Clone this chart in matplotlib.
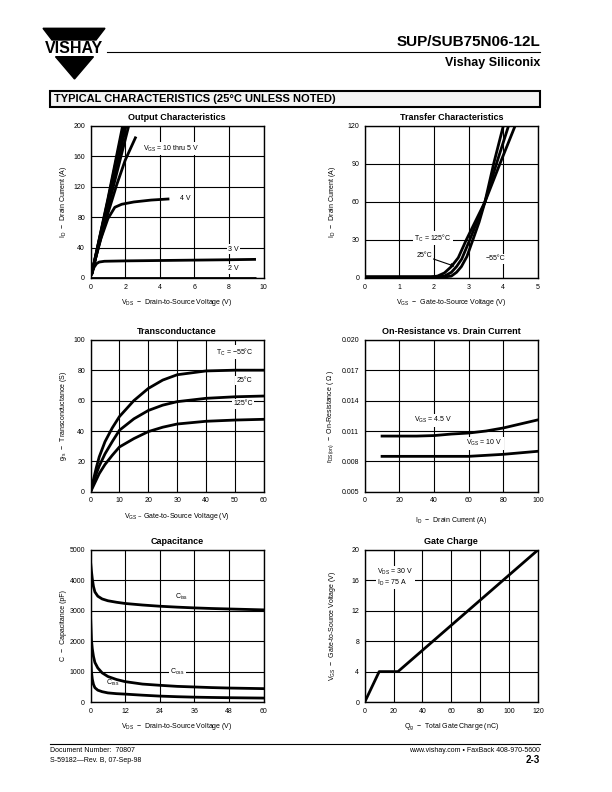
import matplotlib
matplotlib.use('Agg')
import matplotlib.pyplot as plt
from matplotlib.patches import Polygon, Rectangle

plt.rcParams['font.family'] = ['Liberation Sans', 'DejaVu Sans']
plt.rcParams['axes.unicode_minus'] = True
NARROW = ['Liberation Sans Narrow', 'Liberation Sans', 'DejaVu Sans']

# --- Output characteristics
vds_10 = [0.05, 1.0, 1.85]
id_10 = [4, 104, 200]
vds_9 = [0.05, 1.0, 1.9]
id_9 = [4, 102, 200]
vds_8 = [0.05, 1.0, 1.97]
id_8 = [4, 100, 200]
vds_7 = [0.05, 1.0, 2.05]
id_7 = [4, 97, 200]
vds_6 = [0.05, 1.0, 2.2]
id_6 = [4, 92, 200]
vds_5 = [0.05, 0.5, 1.0, 1.5, 2.0, 2.62]
id_5 = [4, 45, 85, 122, 155, 186]
vds_4 = [0.05, 0.3, 0.6, 1.0, 1.4, 1.8, 2.5, 3.5, 4.55]
id_4 = [4, 27, 52, 78, 93, 97, 100, 102.5, 104]
vds_3 = [0.05, 0.2, 0.35, 0.5, 0.8, 2, 4, 6, 8, 9.55]
id_3 = [4, 14, 19, 21, 22, 22.5, 23, 23.5, 24, 24.5]
vds_2 = [0.05, 9.55]
id_2 = [0.3, 0.3]

# --- Transfer characteristics
vgs_m55 = [0, 2.3, 2.5, 2.65, 2.79, 2.95, 3.12, 3.3, 3.47, 3.72, 4.0]
id_m55 = [0.8, 0.8, 1.5, 4.5, 9, 17, 30, 44, 60, 90, 120]
vgs_25 = [0, 2.1, 2.3, 2.5, 2.65, 2.8, 3.03, 3.25, 3.47, 3.8, 4.15]
id_25 = [0.8, 0.8, 1.5, 4.5, 9, 15, 30, 45, 60, 90, 120]
vgs_125 = [0, 1.9, 2.1, 2.3, 2.5, 2.7, 2.93, 3.2, 3.47, 3.9, 4.34]
id_125 = [0.8, 0.8, 1.5, 4, 9, 16, 30, 45, 60, 90, 120]

# --- Transconductance
vgs_gfs = [0, 1, 2, 3, 5, 7.5, 10, 15, 20, 25, 30, 40, 50, 60]
gfs_m55 = [0, 8, 16, 23, 33, 42, 49.5, 60, 68, 73.5, 77, 79.5, 80, 80]
gfs_25 = [0, 6, 12, 17, 25, 33, 40.5, 48, 53.5, 57, 59.3, 61.5, 62.5, 63]
gfs_125 = [0, 4, 8, 12, 18, 24, 29.5, 35, 39.6, 42.5, 44.6, 46.4, 47.2, 47.7]

# --- On-resistance vs drain current
id_r = [10, 20, 30, 40, 50, 60, 70, 80, 90, 100]
r_45 = [0.0105, 0.0105, 0.0105, 0.01055, 0.0107, 0.0108, 0.0110, 0.0113, 0.0117, 0.0121]
r_10 = [0.0085, 0.0085, 0.0085, 0.0085, 0.0085, 0.0085, 0.0086, 0.0087, 0.00885, 0.0090]

# --- Capacitance
vds_c = [0, 0.3, 0.6, 1, 1.5, 2.5, 4, 6, 9, 12, 18, 24, 30, 36, 42, 48, 54, 60]
ciss = [4600, 4300, 4050, 3800, 3620, 3480, 3390, 3330, 3280, 3240, 3190, 3150, 3120, 3095, 3075, 3060, 3045, 3030]
coss = [2800, 2050, 1750, 1500, 1300, 1120, 960, 840, 740, 670, 590, 550, 515, 495, 475, 460, 450, 440]
crss = [1600, 1000, 750, 580, 470, 390, 340, 300, 275, 260, 225, 195, 175, 160, 150, 142, 136, 130]

# --- Gate charge
qg = [0, 10, 23, 120]
vgs_q = [0, 4, 4, 20]

fig = plt.figure(figsize=(6.12, 7.92), dpi=100)

# page decorations in pixel coordinates
page = fig.add_axes([0, 0, 1, 1])
page.set_xlim(0, 612)
page.set_ylim(792, 0)
page.axis('off')
page.add_patch(Polygon([(43, 28.3), (105, 28.3), (96, 40), (52, 40)], color='black'))
page.add_patch(Polygon([(55.5, 56.7), (93.5, 56.7), (74.5, 79)], color='black'))
page.text(74, 48.5, 'VISHAY', fontsize=11.5, fontweight='bold', ha='center', va='center')
page.plot([107, 540], [52, 52], color='black', lw=0.8)
page.text(540, 46, 'SUP/SUB75N06-12L', fontsize=11, fontweight='bold', ha='right', va='baseline', family=NARROW)
page.text(540, 66, 'Vishay Siliconix', fontsize=9, fontweight='bold', ha='right', va='baseline', family=NARROW)
page.add_patch(Rectangle((50, 91), 490, 16, facecolor='#f4f4f4', edgecolor='black', lw=1.5))
page.text(54, 99.5, 'TYPICAL CHARACTERISTICS (25°C UNLESS NOTED)', fontsize=8, fontweight='heavy', va='center')
page.plot([50, 540], [744, 744], color='black', lw=0.8)
page.text(50, 752, 'Document Number:  70807', fontsize=5, va='baseline')
page.text(50, 762, 'S-59182—Rev. B, 07-Sep-98', fontsize=5, va='baseline')
page.text(540, 752, 'www.vishay.com • FaxBack 408-970-5600', fontsize=5, ha='right', va='baseline')
page.text(540, 763, '2-3', fontsize=7, fontweight='bold', ha='right', va='baseline', family=NARROW)

W, H = 0.283, 0.192
ax1 = fig.add_axes([0.148, 0.649, W, H])
ax2 = fig.add_axes([0.596, 0.649, W, H])
ax3 = fig.add_axes([0.148, 0.379, W, H])
ax4 = fig.add_axes([0.596, 0.379, W, H])
ax5 = fig.add_axes([0.148, 0.1136, W, H])
ax6 = fig.add_axes([0.596, 0.1136, W, H])


def style(ax, title, xticks, yticks, xlabel, ylabel, xlab_y, ylab_x):
    ax.set_xlim(xticks[0], xticks[-1])
    ax.set_ylim(yticks[0], yticks[-1])
    ax.set_xticks(xticks)
    ax.set_yticks(yticks)
    ax.grid(True, color='black', lw=0.8)
    ax.set_axisbelow(True)
    ax.tick_params(length=0, labelsize=5, pad=4)
    for s in ax.spines.values():
        s.set_linewidth(1.0)
    ax.set_title(title, fontsize=6.5, fontweight='bold', pad=4, family=NARROW)
    ax.set_xlabel(xlabel, fontsize=5)
    ax.set_ylabel(ylabel, fontsize=5)
    ax.xaxis.set_label_coords(0.5, xlab_y)
    ax.yaxis.set_label_coords(ylab_x, 0.5)


lw = 2.0
box = dict(facecolor='white', edgecolor='none', pad=1)
fs = 5

# Output characteristics
for v, i in [(vds_10, id_10), (vds_9, id_9), (vds_8, id_8), (vds_7, id_7), (vds_6, id_6),
             (vds_5, id_5), (vds_4, id_4), (vds_3, id_3), (vds_2, id_2)]:
    ax1.plot(v, i, color='black', lw=lw, solid_capstyle='butt')
style(ax1, 'Output Characteristics', [0, 2, 4, 6, 8, 10], [0, 40, 80, 120, 160, 200],
      r'V$_\mathregular{DS}$  −  Drain-to-Source Voltage (V)',
      r'I$_\mathregular{D}$  −  Drain Current (A)', -0.125, -0.125)
ax1.text(3.0, 170, r'V$_\mathregular{GS}$ = 10 thru 5 V', fontsize=fs, va='center', bbox=box)
ax1.text(5.15, 104, '4 V', fontsize=fs, va='center')
ax1.text(7.95, 38, '3 V', fontsize=fs, va='center', bbox=box)
ax1.text(7.95, 12, '2 V', fontsize=fs, va='center', bbox=box)

# Transfer characteristics
for v, i in [(vgs_m55, id_m55), (vgs_25, id_25), (vgs_125, id_125)]:
    ax2.plot(v, i, color='black', lw=lw)
style(ax2, 'Transfer Characteristics', [0, 1, 2, 3, 4, 5], [0, 30, 60, 90, 120],
      r'V$_\mathregular{GS}$  −  Gate-to-Source Voltage (V)',
      r'I$_\mathregular{D}$  −  Drain Current (A)', -0.125, -0.154)
ax2.text(1.42, 31.4, r'T$_\mathregular{C}$ = 125°C', fontsize=fs, va='center', bbox=box)
ax2.annotate('25°C', xy=(2.6, 9.2), xytext=(1.49, 17.5), fontsize=fs, va='center',
             bbox=box, arrowprops=dict(arrowstyle='-|>', color='black', lw=0.8,
                                       mutation_scale=5, shrinkA=0, shrinkB=0))
ax2.text(3.5, 15.2, '−55°C', fontsize=fs, va='center', bbox=box)

# Transconductance
for g in [gfs_m55, gfs_25, gfs_125]:
    ax3.plot(vgs_gfs, g, color='black', lw=lw)
style(ax3, 'Transconductance', [0, 10, 20, 30, 40, 50, 60], [0, 20, 40, 60, 80, 100],
      r'V$_\mathregular{GS}$ – Gate-to-Source Voltage (V)',
      r'g$_\mathregular{fs}$  −  Transconductance (S)', -0.125, -0.125)
ax3.text(43.6, 91.9, r'T$_\mathregular{C}$ = −55°C', fontsize=fs, va='center', bbox=box)
ax3.text(50.5, 73.2, '25°C', fontsize=fs, va='center', bbox=box)
ax3.text(49.4, 57.8, '125°C', fontsize=fs, va='center', bbox=box)

# On-resistance
ax4.plot(id_r, r_45, color='black', lw=lw)
ax4.plot(id_r, r_10, color='black', lw=lw)
style(ax4, 'On-Resistance vs. Drain Current', [0, 20, 40, 60, 80, 100],
      [0.005, 0.008, 0.011, 0.014, 0.017, 0.020],
      r'I$_\mathregular{D}$  −  Drain Current (A)',
      r'r$_\mathregular{DS(on)}$  −  On-Resistance ( Ω )', -0.155, -0.164)
ax4.set_yticklabels(['%.3f' % t for t in [0.005, 0.008, 0.011, 0.014, 0.017, 0.020]])
ax4.text(28.3, 0.01205, r'V$_\mathregular{GS}$ = 4.5 V', fontsize=fs, va='center', bbox=box)
ax4.text(58.7, 0.0098, r'V$_\mathregular{GS}$ = 10 V', fontsize=fs, va='center', bbox=box)

# Capacitance
for c in [ciss, coss, crss]:
    ax5.plot(vds_c, c, color='black', lw=lw)
style(ax5, 'Capacitance', [0, 12, 24, 36, 48, 60], [0, 1000, 2000, 3000, 4000, 5000],
      r'V$_\mathregular{DS}$  −  Drain-to-Source Voltage (V)',
      'C  −  Capacitance (pF)', -0.125, -0.135)
ax5.text(29.2, 3468, r'C$_\mathregular{iss}$', fontsize=fs, va='center')
ax5.text(27.5, 1006, r'C$_\mathregular{oss}$', fontsize=fs, va='center', bbox=box)
ax5.text(5.2, 614, r'C$_\mathregular{rss}$', fontsize=fs, va='center')

# Gate charge
ax6.plot(qg, vgs_q, color='black', lw=lw)
style(ax6, 'Gate Charge', [0, 20, 40, 60, 80, 100, 120], [0, 4, 8, 12, 16, 20],
      r'Q$_\mathregular{g}$  −  Total Gate Charge (nC)',
      r'V$_\mathregular{GS}$  −  Gate-to-Source Voltage (V)', -0.125, -0.154)
ax6.text(8.6, 16.4, 'V$_\\mathregular{DS}$ = 30 V\nI$_\\mathregular{D}$ = 75 A', fontsize=fs,
         va='center', bbox=box, linespacing=1.0)

fig.savefig('out.png', dpi=100)
